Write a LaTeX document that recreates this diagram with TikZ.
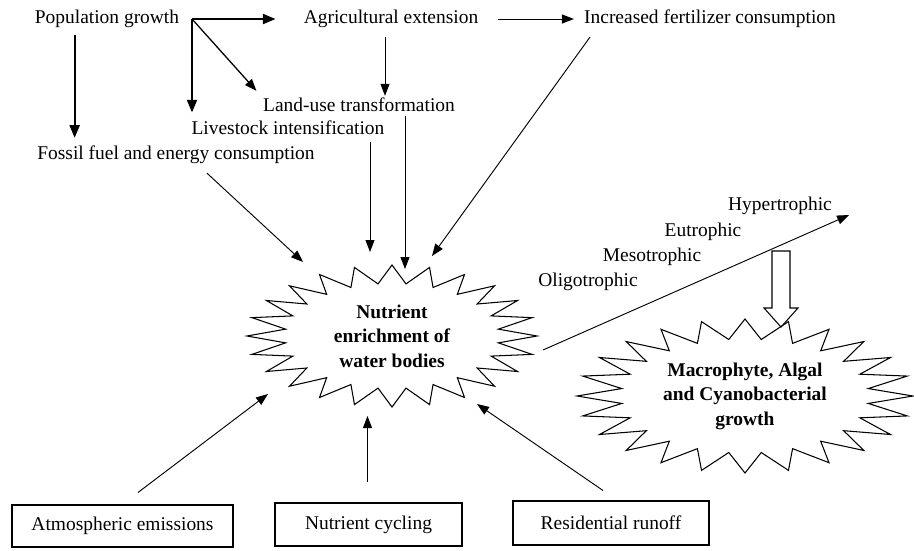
\documentclass[tikz,border=0pt]{standalone}
\usepackage{fontspec}
\setmainfont{Liberation Serif}
\usetikzlibrary{arrows.meta}
\tikzset{
  lbl/.style={font=\fontsize{16.6}{20}\selectfont, inner sep=0.06cm},
  burstlbl/.style={font=\fontsize{16.6}{21}\selectfont\bfseries, align=center, inner sep=0pt},
  boxnode/.style={draw, line width=0.9pt, font=\fontsize{16.6}{20}\selectfont, inner sep=0pt},
  thinarr/.style={line width=0.8pt, -{Triangle[length=0.36cm,width=0.27cm]}},
  thickarr/.style={line width=1.8pt, -{Triangle[length=0.38cm,width=0.3cm]}},
  burstline/.style={line width=0.9pt, line join=miter},
  hollowarr/.style={line width=0.9pt, line join=miter},
}
% zigzag outline round a node: node, x radius, y radius (24 points)
\newcommand{\burstaround}[3]{%
  \draw[burstline] ([shift={(#2,0)}]#1.center)
    \foreach \k in {1,...,47}{
      -- ([shift={({#2*(1-0.26*mod(\k,2))*cos(7.5*\k)},{#3*(1-0.26*mod(\k,2))*sin(7.5*\k)})}]#1.center)}
    -- cycle;
}
\begin{document}
\begin{tikzpicture}
\def\px{0.03cm}
\begin{scope}[x=\px, y=-\px]
  \useasboundingbox (0,0) rectangle (914,550);
  % Drivers along the top
  \node[lbl] (pop) at (107,19) {Population growth};
  \node[lbl] (agri) at (391,19) {Agricultural extension};
  \node[lbl] (fert) at (710,19) {Increased fertilizer consumption};
  \node[lbl] (land) at (359,105) {Land-use transformation};
  \node[lbl] (live) at (288,128) {Livestock intensification};
  \node[lbl] (fossil) at (176,155) {Fossil fuel and energy consumption};
  % Central burst
  \node[burstlbl] (nut) at (392,336) {Nutrient\\enrichment of\\water bodies};
  \burstaround{nut}{145}{71}
  % Trophic states
  \node[lbl] (oligo) at (588,282) {Oligotrophic};
  \node[lbl] (meso) at (652,257) {Mesotrophic};
  \node[lbl] (eutro) at (703,232) {Eutrophic};
  \node[lbl] (hyper) at (780,206) {Hypertrophic};
  % Growth burst
  \node[burstlbl] (grow) at (745,396) {Macrophyte, Algal\\and Cyanobacterial\\growth};
  \burstaround{grow}{168}{77}
  % Sources in boxes
  \node[boxnode, minimum width=6.63cm, minimum height=1.26cm] (atm) at (122.5,526) {Atmospheric emissions};
  \node[boxnode, minimum width=5.61cm, minimum height=1.29cm] (cyc) at (368.5,524.5) {Nutrient cycling};
  \node[boxnode, minimum width=5.88cm, minimum height=1.32cm] (res) at (611,523) {Residential runoff};
  % Population growth fork
  \coordinate (fork) at (192,19);
  \coordinate (popfoot) at ([shift={(42,5)}]pop.south west);
  \coordinate (agrifoot) at ([shift={(-6,7)}]agri.south);
  \coordinate (landfoot) at ([shift={(46,2)}]land.south);
  \draw[thickarr, shorten >=0.78cm] (fork) -- (agri.west);
  \draw[thickarr, shorten >=0.19cm] (fork) -- (fork |- live.north);
  \draw[thinarr, line width=1.1pt, shorten >=0.2cm] (fork) -- (land.north west);
  \draw[thickarr, shorten >=0.18cm] (popfoot) -- (popfoot |- fossil.north);
  \draw[thinarr] (agrifoot) -- (agrifoot |- land.north);
  \draw[thinarr, shorten <=0.54cm, shorten >=0.24cm] (agri.east) -- (fert.west);
  % Into the central burst
  \draw[thinarr] ([shift={(8,7)}]fert.south west) -- ([shift={(40,-80)}]nut.center);
  \draw[thinarr] (landfoot) -- ([shift={(13,-67)}]nut.center);
  \draw[thinarr] ([shift={(82,5)}]live.south) -- ([shift={(-22,-84)}]nut.center);
  \draw[thinarr] ([shift={(31,7)}]fossil.south) -- ([shift={(-89,-74)}]nut.center);
  \draw[thinarr] ([shift={(15.5,-12)}]atm.north) -- ([shift={(-124,58)}]nut.center);
  \draw[thinarr] ([shift={(-1,-20)}]cyc.north) -- ([shift={(-24.5,80)}]nut.center);
  \draw[thinarr] ([shift={(-8,-10)}]res.north) -- ([shift={(85,68)}]nut.center);
  % Trophic gradient and block arrow
  \draw[thinarr] ([shift={(151,14)}]nut.center) -- ([shift={(15,9)}]hyper.east);
  \draw[hollowarr] (772,251) -- ++(18,0) -- ++(0,57) -- ++(8,0) -- ++(-17,19) -- ++(-17,-19) -- ++(8,0) -- cycle;
\end{scope}
\end{tikzpicture}
\end{document}
